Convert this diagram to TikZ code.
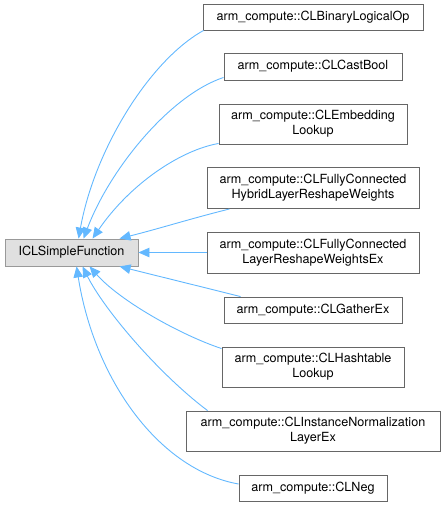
\documentclass[tikz,border=0pt]{standalone}
\usepackage{fontspec}
\setmainfont{TeX Gyre Heros}
\usetikzlibrary{arrows.meta,calc}
\definecolor{edgeblue}{HTML}{63B8FF}
\definecolor{childborder}{HTML}{666666}
\definecolor{parentborder}{HTML}{999999}
\definecolor{parentfill}{HTML}{E0E0E0}
\begin{document}
\begin{tikzpicture}[x=1pt,y=-1pt,
  box/.style={draw=childborder,fill=white,line width=0.9pt,inner sep=0pt,align=center,
    font=\fontsize{12.6}{15}\selectfont,text=black},
  parentbox/.style={box,draw=parentborder,fill=parentfill},
  edge/.style={draw=edgeblue,line width=0.9pt,-{Triangle[length=11pt,width=9.5pt]}}]
\useasboundingbox (0,0) rectangle (445,507);
\node[parentbox,minimum width=133pt,minimum height=27pt] (p) at (71.5,252.5) {ICLSimpleFunction};
\node[box,minimum width=220pt,minimum height=26pt] (n1) at (313,17) {arm\_compute::CLBinaryLogicalOp};
\node[box,minimum width=178pt,minimum height=27pt] (n2) at (313,66.5) {arm\_compute::CLCastBool};
\node[box,minimum width=188pt,minimum height=40pt] (n3) at (313,124) {arm\_compute::CLEmbedding\\Lookup};
\node[box,minimum width=212pt,minimum height=41pt] (n4) at (313,188) {arm\_compute::CLFullyConnected\\HybridLayerReshapeWeights};
\node[box,minimum width=212pt,minimum height=41pt] (n5) at (313,252.5) {arm\_compute::CLFullyConnected\\LayerReshapeWeightsEx};
\node[box,minimum width=178pt,minimum height=26pt] (n6) at (313,310) {arm\_compute::CLGatherEx};
\node[box,minimum width=182pt,minimum height=40pt] (n7) at (313,367) {arm\_compute::CLHashtable\\Lookup};
\node[box,minimum width=254pt,minimum height=40pt] (n8) at (313,431) {arm\_compute::CLInstanceNormalization\\LayerEx};
\node[box,minimum width=148pt,minimum height=26pt] (n9) at (313,488) {arm\_compute::CLNeg};
\draw[edge] ($(n1.south west)+(1,0)$) .. controls +(-54,30) and +(16,-89) .. ($(p.north west)+(74,0)$);
\draw[edge] ($(n2.south west)+(0,-3)$) .. controls +(-54,18) and +(26,-69) .. ($(p.north west)+(79,0)$);
\draw[edge] ($(n3.south west)+(0,-1)$) .. controls +(-39,7) and +(37,-54) .. ($(p.north west)+(88,0)$);
\draw[edge] ($(n4.south west)+(23,0)$) .. controls +(-40,10) and +(40,-10) .. ($(p.north west)+(115,0)$);
\draw[edge] (n5.west) -- (p.east);
\draw[edge] ($(n6.north west)+(17,0)$) .. controls +(-40,-10) and +(40,10) .. ($(p.south west)+(115,0)$);
\draw[edge] ($(n7.north west)+(0,2)$) .. controls +(-42,-14) and +(30,34) .. ($(p.south west)+(85,0)$);
\draw[edge] ($(n8.north west)+(22,0)$) .. controls +(-48,-36) and +(22,44) .. ($(p.south west)+(78,0)$);
\draw[edge] ($(n9.west)+(0,-4)$) .. controls +(-79,-14) and +(18,114) .. ($(p.south west)+(72,0)$);
\end{tikzpicture}
\end{document}
